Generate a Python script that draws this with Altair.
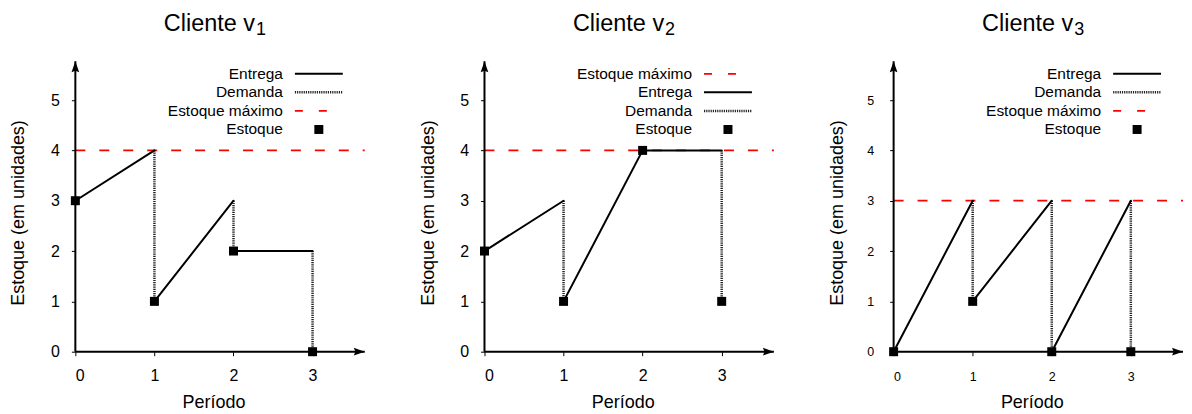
import altair as alt
import pandas as pd

FONT = "Liberation Sans"

# ---- data ----
periodos = [0, 1, 2, 3]
clientes = ["1", "2", "3"]
estoque = {"1": [3, 1, 2, 0], "2": [2, 1, 4, 1], "3": [0, 1, 0, 0]}
# nível do estoque logo antes da demanda, nos períodos 1..3
antes_demanda = {"1": [4, 3, 2], "2": [3, 4, 4], "3": [3, 3, 3]}
estoque_maximo = {"1": 4, "2": 4, "3": 3}
legenda = {
    "1": ["Entrega", "Demanda", "Estoque máximo", "Estoque"],
    "2": ["Estoque máximo", "Entrega", "Demanda", "Estoque"],
    "3": ["Entrega", "Demanda", "Estoque máximo", "Estoque"],
}
y_ticks = [0, 1, 2, 3, 4, 5]
tick_font = {"1": 16, "2": 16, "3": 12.5}

X_MAX = 3.66
Y_MAX = 5.77
W, H = 290, 291

ARROW_X = "M0,0 L-2,-0.7 L-1.7,0 L-2,0.7 Z"
ARROW_Y = "M0,0 L-0.7,2 L0,1.7 L0.7,2 Z"

one = pd.DataFrame({"a": [0]})


def painel(c):
    est = estoque[c]
    ant = antes_demanda[c]
    pontos = pd.DataFrame({"t": periodos, "v": est})
    entrega = pd.DataFrame({"t": periodos[:-1], "v": est[:-1],
                            "t2": periodos[1:], "v2": ant})
    demanda = pd.DataFrame({"t": periodos[1:], "v": ant, "v2": est[1:]})
    maxdf = pd.DataFrame({"t": [0], "t2": [X_MAX], "v": [estoque_maximo[c]]})

    fs = tick_font[c]
    big = fs > 13
    xs = alt.Scale(domain=[0, X_MAX], nice=False, zero=False)
    ys = alt.Scale(domain=[0, Y_MAX], nice=False, zero=False)
    xax = alt.Axis(values=periodos, title=None, domain=False, grid=False,
                   tickSize=4, tickColor="black", tickWidth=1,
                   labelFontSize=fs, labelFont=FONT, labelColor="black",
                   labelPadding=12 if big else 15, format="d")
    yax = alt.Axis(values=y_ticks, title=None, domain=False, grid=False,
                   tickSize=4, tickColor="black", tickWidth=1,
                   labelFontSize=fs, labelFont=FONT, labelColor="black",
                   labelPadding=12 if big else 16, format="d")
    X = lambda f: alt.X(f, type="quantitative", scale=xs, axis=xax)
    Y = lambda f: alt.Y(f, type="quantitative", scale=ys, axis=yax)

    layers = []
    # max stock line
    layers.append(alt.Chart(maxdf).mark_rule(color="#ff0000", strokeWidth=1.8,
                                              strokeDash=[10, 14]).encode(
        x=X("t"), x2="t2", y=Y("v")))
    # axes lines with arrows
    layers.append(alt.Chart(one).mark_rule(color="black", strokeWidth=2).encode(
        x=X("a"), x2=alt.datum(X_MAX), y=Y("a")))
    layers.append(alt.Chart(one).mark_rule(color="black", strokeWidth=2).encode(
        x=X("a"), y=Y("a"), y2=alt.datum(Y_MAX)))
    layers.append(alt.Chart(one).mark_point(shape=ARROW_X, filled=True, size=121,
                                            color="black", opacity=1).encode(
        x=alt.X(datum=X_MAX, type="quantitative", scale=xs, axis=xax), y=Y("a")))
    layers.append(alt.Chart(one).mark_point(shape=ARROW_Y, filled=True, size=121,
                                            color="black", opacity=1).encode(
        x=X("a"), y=alt.Y(datum=Y_MAX, type="quantitative", scale=ys, axis=yax)))
    # demanda
    layers.append(alt.Chart(demanda).mark_rule(color="#222222", strokeWidth=2.5,
                                                strokeDash=[1.2, 1]).encode(
        x=X("t"), y=Y("v"), y2="v2"))
    # entrega
    layers.append(alt.Chart(entrega).mark_rule(color="black", strokeWidth=2,
                                                strokeCap="round").encode(
        x=X("t"), y=Y("v"), x2="t2", y2="v2"))
    # estoque
    layers.append(alt.Chart(pontos).mark_square(size=81, color="black", opacity=1).encode(
        x=X("t"), y=Y("v")))

    # titles
    layers.append(alt.Chart(one).mark_text(text="Cliente v", align="right",
                                           baseline="alphabetic", fontSize=23.5,
                                           font=FONT, color="black").encode(
        x=alt.value(180), y=alt.value(-30)))
    layers.append(alt.Chart(one).mark_text(text=c, align="left",
                                           baseline="alphabetic", fontSize=18,
                                           font=FONT, color="black").encode(
        x=alt.value(181), y=alt.value(-26)))
    layers.append(alt.Chart(one).mark_text(text="Período", align="center",
                                           baseline="alphabetic", fontSize=18,
                                           font=FONT, color="black").encode(
        x=alt.value(139), y=alt.value(H + 56)))
    layers.append(alt.Chart(one).mark_text(text="Estoque (em unidades)", align="center",
                                           baseline="alphabetic", angle=270, fontSize=18,
                                           font=FONT, color="black").encode(
        x=alt.value(-51), y=alt.value(152)))

    # legend (gnuplot style: label then sample)
    for i, item in enumerate(legenda[c]):
        yc = 12.5 + 18.6 * i
        layers.append(alt.Chart(one).mark_text(text=item, align="right",
                                               baseline="middle", fontSize=15.5,
                                               font=FONT, color="black").encode(
            x=alt.value(208), y=alt.value(yc)))
        if item == "Entrega":
            layers.append(alt.Chart(one).mark_rule(color="black", strokeWidth=2).encode(
                x=alt.value(220), x2=alt.value(268), y=alt.value(yc)))
        elif item == "Demanda":
            layers.append(alt.Chart(one).mark_rule(color="#222222", strokeWidth=2.5,
                                                   strokeDash=[1.2, 1]).encode(
                x=alt.value(220), x2=alt.value(268), y=alt.value(yc)))
        elif item == "Estoque máximo":
            layers.append(alt.Chart(one).mark_rule(color="#ff0000", strokeWidth=1.8,
                                                   strokeDash=[8, 16]).encode(
                x=alt.value(220), x2=alt.value(268), y=alt.value(yc)))
        else:
            layers.append(alt.Chart(one).mark_square(size=81, color="black",
                                                     opacity=1).encode(
                x=alt.value(244), y=alt.value(yc)))

    return alt.layer(*layers).properties(width=W, height=H)


chart = alt.hconcat(*[painel(c) for c in clientes], spacing=120, bounds="flush").properties(
    padding={"left": 2.5, "top": 4, "right": 0, "bottom": 0}, background="white"
).configure_view(stroke=None)

chart.save("out.html", embed_options={"renderer": "svg", "actions": False})
